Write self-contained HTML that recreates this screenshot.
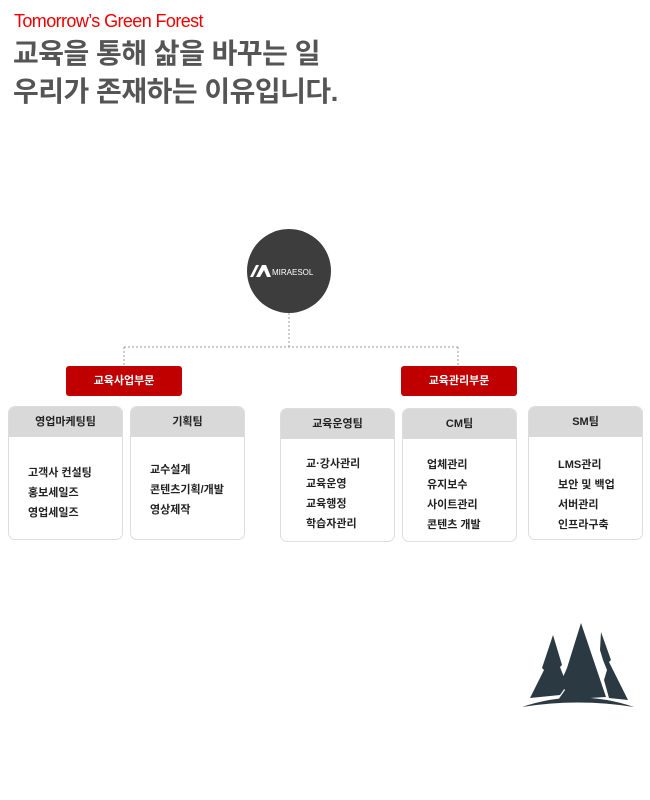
<!DOCTYPE html>
<html><head><meta charset="utf-8"><style>
body{margin:0;width:650px;height:800px;background:#fff;position:relative;overflow:hidden;font-family:"Liberation Sans","Noto Sans CJK KR",sans-serif}
.a{position:absolute}
.red{position:absolute;background:#c00000;color:#fff;font-size:11px;font-weight:bold;text-align:center;line-height:30px;border-radius:3px;width:116px;height:30px}
.box{position:absolute;width:115px;height:134px;border:1px solid #ddd;border-radius:7px;overflow:hidden;background:#fff;box-sizing:border-box}
.box .h{background:#d9d9d9;height:30px;line-height:30px;text-align:center;font-size:11px;font-weight:bold;color:#222}
.box .l{position:absolute;font-size:11px;color:#222;font-weight:bold;line-height:20px}
</style></head><body>
<div class="a" style="left:14px;top:11px;color:#e00;font-size:18px;letter-spacing:-0.6px">Tomorrow’s Green Forest</div>
<div class="a" style="left:13px;top:35px;color:#555;font-size:28px;font-weight:bold;line-height:38px;letter-spacing:-0.5px">교육을 통해 삶을 바꾸는 일<br>우리가 존재하는 이유입니다.</div>
<svg class="a" style="left:0;top:0" width="650" height="800">
<line x1="289" y1="313" x2="289" y2="347" stroke="#999" stroke-dasharray="2,2"/>
<line x1="124" y1="347" x2="458" y2="347" stroke="#999" stroke-dasharray="2,2"/>
<line x1="124" y1="347" x2="124" y2="366" stroke="#999" stroke-dasharray="2,2"/>
<line x1="458" y1="347" x2="458" y2="366" stroke="#999" stroke-dasharray="2,2"/>
<ellipse cx="289" cy="271" rx="42" ry="42" fill="#3d3d3d"/>
<polygon points="250,277 256,265 259,265 253,277" fill="#fff"/>
<polygon points="256,277 262,265 266,265 271,277 267,277 264,270 260,277" fill="#fff"/>
<text x="272" y="275" fill="#fff" font-size="8" font-family="Liberation Sans">MIRAESOL</text>
<g fill="#2b3a42">
<path d="M522,707 Q578,688 634,707 Q578,698 522,707Z"/>
<path d="M553,635 L562,665 L560,667 L567,685 L560,695 L530,698 L544,670 L542,668 Z"/>
<path d="M581,623 L606,697 L558,700 L565,690 L560,684 L567,668 Z"/>
<path d="M601,632 L611,660 L609,662 L628,700 L609,698 L604,680 L607,670 L603,660 L600,650 Z"/>
</g>
</svg>
<div class="red" style="left:66px;top:366px">교육사업부문</div>
<div class="red" style="left:401px;top:366px">교육관리부문</div>
<div class="box" style="left:8px;top:406px"><div class="h">영업마케팅팀</div><div class="l" style="left:19px;top:56px">고객사 컨설팅<br>홍보세일즈<br>영업세일즈</div></div>
<div class="box" style="left:130px;top:406px"><div class="h">기획팀</div><div class="l" style="left:19px;top:53px">교수설계<br>콘텐츠기획/개발<br>영상제작</div></div>
<div class="box" style="left:280px;top:408px"><div class="h">교육운영팀</div><div class="l" style="left:25px;top:45px">교·강사관리<br>교육운영<br>교육행정<br>학습자관리</div></div>
<div class="box" style="left:402px;top:408px"><div class="h">CM팀</div><div class="l" style="left:24px;top:46px">업체관리<br>유지보수<br>사이트관리<br>콘텐츠 개발</div></div>
<div class="box" style="left:528px;top:406px"><div class="h">SM팀</div><div class="l" style="left:29px;top:48px">LMS관리<br>보안 및 백업<br>서버관리<br>인프라구축</div></div>
</body></html>
